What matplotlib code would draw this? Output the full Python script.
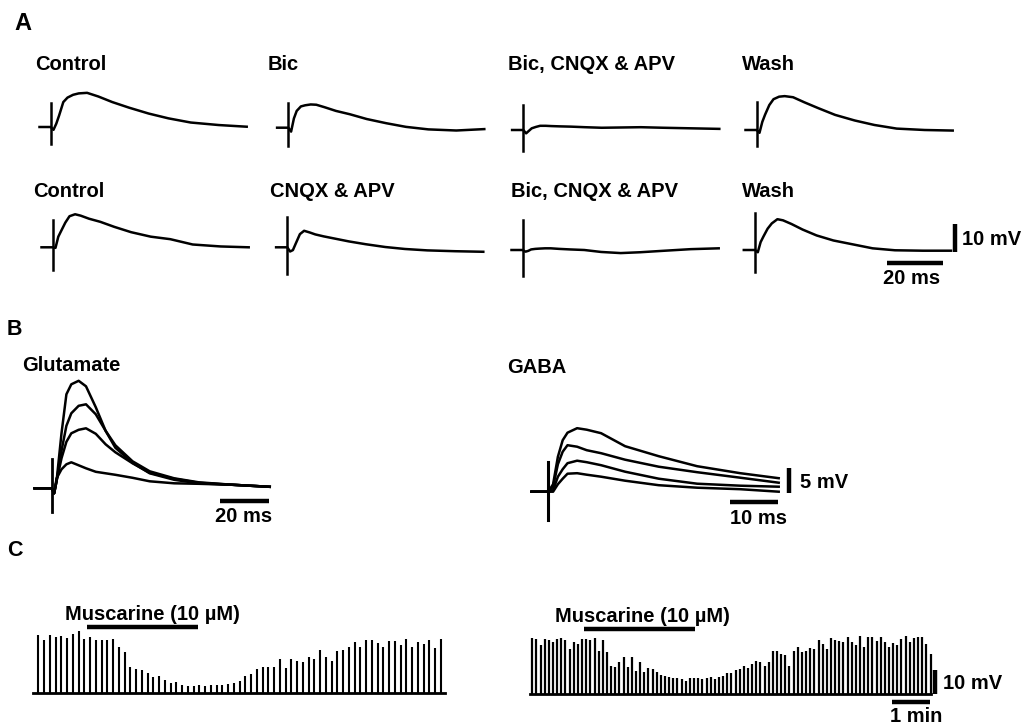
import matplotlib
matplotlib.use("Agg")
import matplotlib.pyplot as plt
import numpy as np

W, H = 1030, 727
plt.rcParams['font.family'] = ['Liberation Sans', 'DejaVu Sans']
plt.rcParams['font.weight'] = 'bold'

# ---------------- A: evoked PSPs (ms after stimulus, mV) ----------------
a_time = [-4, 0, 1, 2, 3, 4.5, 6, 8, 10, 13, 17, 22, 28, 35, 42, 50, 60, 70]
a_labels = [["Control", "Bic", "Bic, CNQX & APV", "Wash"],
            ["Control", "CNQX & APV", "Bic, CNQX & APV", "Wash"]]
a_traces = [
    [[0, 0, -1.0, 1.2, 4.1, 8.9, 10.5, 11.5, 12.0, 12.2, 10.9, 8.9, 6.9, 4.8, 3.1, 1.6, 0.7, 0.1],
     [0, 0, -1.4, 3.3, 6.0, 7.6, 8.0, 8.3, 8.2, 7.3, 6.0, 4.8, 3.1, 1.6, 0.3, -0.6, -1.0, -0.5],
     [0, 0, -1.2, -0.3, 0.6, 1.1, 1.5, 1.5, 1.4, 1.3, 1.2, 1.0, 0.8, 0.9, 1.0, 0.8, 0.6, 0.4],
     [0, 0, -1.0, 2.9, 5.5, 8.9, 11.0, 11.9, 12.1, 11.7, 9.9, 7.8, 5.4, 3.4, 1.8, 0.5, 0.0, -0.2]],
    [[0, 0, -0.2, 3.8, 5.8, 8.8, 11.1, 11.8, 11.3, 10.2, 9.1, 7.3, 5.4, 3.8, 2.9, 1.0, 0.3, 0.0],
     [0, 0, -1.5, -1.0, 1.3, 4.7, 5.9, 5.3, 4.6, 3.9, 3.1, 2.1, 1.1, 0.1, -0.6, -1.1, -1.4, -1.6],
     [0, 0, -0.6, -0.3, 0.2, 0.4, 0.5, 0.6, 0.6, 0.4, 0.2, 0.0, -0.7, -1.1, -0.8, -0.3, 0.3, 0.6],
     [0, 0, -0.8, 2.8, 4.8, 7.6, 9.5, 11.0, 10.6, 9.3, 7.3, 5.2, 3.4, 2.0, 0.6, -0.1, -0.25, -0.25]],
]
a_artifact_up = [[8.5, 8.7, 8.9, 10.1], [9.8, 10.9, 10.7, 13.1]]
a_artifact_down = [[6.1, 6.5, 7.4, 5.7], [8.1, 9.5, 9.3, 7.8]]

# ---------------- B: responses to glutamate / GABA ----------------
glu_time = [-7, 0, 1, 2, 4, 6, 8, 11, 14, 18, 22, 26, 33, 40, 50, 60, 74, 89]
glu_traces = [
    [0, 0, -1.0, 1.5, 11.0, 18.8, 20.8, 21.5, 20.4, 16.2, 11.5, 8.1, 5.1, 3.0, 1.7, 1.0, 0.7, 0.3],
    [0, 0, -1.0, 1.5, 7.5, 12.5, 15.0, 16.5, 16.8, 14.8, 11.5, 8.6, 5.4, 3.4, 2.0, 1.2, 0.7, 0.3],
    [0, 0, -1.0, 1.5, 6.0, 9.3, 11.0, 11.7, 12.0, 10.9, 8.8, 7.2, 5.0, 3.1, 1.9, 1.1, 0.7, 0.3],
    [0, 0, -1.0, 2.0, 3.8, 4.8, 5.2, 4.6, 4.0, 3.3, 3.0, 2.7, 2.1, 1.4, 1.0, 0.9, 0.7, 0.3],
]
gaba_time = [-3.5, 0, 1, 2, 3, 4, 6, 8, 11, 16, 23, 31, 40, 48]
gaba_traces = [
    [0, 0, 1.5, 7.0, 10.3, 11.8, 12.7, 12.4, 11.7, 9.1, 7.1, 5.1, 3.7, 2.7],
    [0, 0, 1.0, 5.5, 8.0, 9.3, 9.0, 8.3, 7.7, 6.4, 5.0, 3.9, 2.8, 1.8],
    [0, 0, 0.3, 3.0, 4.5, 5.7, 6.2, 5.9, 5.3, 4.0, 2.6, 1.6, 1.2, 1.0],
    [0, 0, 0.0, 1.5, 2.6, 3.6, 3.7, 3.4, 3.0, 2.2, 1.3, 0.8, 0.5, 0.0],
]
glu_artifact = (5.8, 4.7)
gaba_artifact = (6.0, 5.7)

# ---------------- C: PSP amplitude during muscarine (s, mV) ----------------
left_first, left_interval, left_end = 8.4, 9.08, 651
left_amps = [24.2, 22.1, 24.2, 23.3, 23.8, 22.9, 24.6, 25.8, 22.5, 23.3,
             22.1, 22.1, 22.1, 22.5, 19.2, 17.1, 10.8, 10.0, 9.6, 8.3,
             6.7, 7.1, 5.4, 4.2, 4.6, 3.3, 2.9, 2.9, 3.3, 2.9,
             3.3, 3.3, 3.3, 3.8, 4.2, 4.8, 7.0, 8.0, 10.1, 10.7,
             10.7, 10.7, 14.2, 10.4, 14.2, 13.2, 12.8, 14.9, 14.3, 18.0,
             14.9, 13.5, 17.4, 18.0, 19.0, 21.1, 19.2, 22.0, 22.0, 20.8,
             19.0, 21.8, 21.5, 19.9, 22.6, 19.2, 21.1, 20.5, 22.0, 18.8, 22.6]
right_first, right_interval, right_end = 3.6, 6.55, 633
right_amps = [23.2, 22.9, 20.4, 22.9, 22.6, 21.8, 22.9, 23.2, 22.6, 18.8,
              21.8, 20.8, 22.9, 22.9, 22.6, 23.2, 18.0, 22.6, 17.4, 11.8,
              11.1, 13.5, 15.3, 11.1, 15.3, 9.7, 13.2, 9.0, 10.7, 10.4,
              9.3, 7.9, 7.6, 7.0, 6.7, 6.5, 6.3, 5.5, 6.5, 6.5,
              6.5, 6.3, 6.5, 7.0, 6.3, 7.0, 7.4, 8.6, 8.6, 10.0,
              10.4, 11.8, 10.8, 12.5, 13.9, 13.2, 11.8, 13.2, 17.8, 18.0,
              16.7, 16.4, 11.8, 17.8, 19.7, 17.4, 17.8, 19.2, 18.8, 22.6,
              20.8, 18.8, 23.2, 22.5, 22.2, 21.5, 23.9, 21.5, 20.5, 24.0,
              19.5, 23.6, 23.6, 22.2, 23.6, 21.5, 19.7, 21.1, 20.5, 22.9,
              24.3, 21.5, 23.3, 23.9, 23.6, 20.8, 16.7]
muscarine_on, muscarine_off = 85, 260

fig = plt.figure(figsize=(W / 100, H / 100), dpi=100)


def trace_axes(x0, y0, sx, sy):
    # transparent full-figure axes: data (0, 0) sits at pixel (x0, y0), sx / sy pixels per unit
    ax = fig.add_axes([0, 0, 1, 1])
    ax.set_xlim(-x0 / sx, (W - x0) / sx)
    ax.set_ylim(-(H - y0) / sy, y0 / sy)
    ax.set_axis_off()
    return ax


def vbar(x0, y0, length, sy):
    trace_axes(x0, y0, 1, sy).plot([0, 0], [0, length], color='k', lw=3.2, solid_capstyle='butt')


def hbar(x0, y0, length, sx):
    trace_axes(x0, y0, sx, 1).plot([0, length], [0, 0], color='k', lw=3.2, solid_capstyle='butt')


lab = fig.add_axes([0, 0, 1, 1])
lab.set_xlim(0, W)
lab.set_ylim(H, 0)
lab.set_axis_off()


def label(x, y, s, size=14.5):
    lab.text(x, y, s, fontsize=size, fontweight='bold', va='baseline', ha='left')


# ---- A ----
label(14, 30, "A", 17)
a_origin = [[(50.7, 127), (288.3, 127.7), (523.3, 130), (756.7, 130)],
            [(52.7, 247.3), (287.3, 247.3), (522.7, 250), (755, 250)]]
a_label_xy = [[(35, 70), (268, 70), (508, 70), (742, 70)],
              [(33, 197), (270, 197), (511, 197), (742, 197)]]
for r in range(2):
    for c in range(4):
        x0, y0 = a_origin[r][c]
        ax = trace_axes(x0, y0, 2.8, 2.8)
        ax.plot(a_time, a_traces[r][c], color='k', lw=1.8)
        ax.plot([0, 0], [-a_artifact_down[r][c], a_artifact_up[r][c]], color='k', lw=1.8)
        lx, ly = a_label_xy[r][c]
        label(lx, ly, a_labels[r][c])
vbar(955, 252, 10, 2.8)
hbar(887, 263, 20, 2.8)
label(962, 245, "10 mV")
label(883, 284, "20 ms")

# ---- B ----
label(7, 335, "B", 15.5)
label(22, 371, "Glutamate")
label(507, 373, "GABA")
ax = trace_axes(51.7, 488.3, 2.45, 5)
for tr in glu_traces:
    ax.plot(glu_time, tr, color='k', lw=1.8)
ax.plot([0, 0], [-glu_artifact[1], glu_artifact[0]], color='k', lw=2)
ax = trace_axes(548.3, 491.7, 4.8, 5)
for tr in gaba_traces:
    ax.plot(gaba_time, tr, color='k', lw=1.8)
ax.plot([0, 0], [-gaba_artifact[1], gaba_artifact[0]], color='k', lw=2.2)
hbar(220, 501, 20, 2.45)
label(215, 522, "20 ms")
hbar(730, 502, 10, 4.8)
label(730, 524, "10 ms")
vbar(789, 493, 5, 5)
label(800, 488, "5 mV")

# ---- C ----
label(7, 556, "C", 15.5)
for (x0, y0, first, step, end, amps, bar_y, lx, spike_lw) in [
        (33, 693, left_first, left_interval, left_end, left_amps, 627, 65, 1.5),
        (530, 694, right_first, right_interval, right_end, right_amps, 629, 555, 1.6)]:
    ax = trace_axes(x0, y0, 38 / 60, 2.4)
    times = first + step * np.arange(len(amps))
    ax.plot([0, end], [0, 0], color='k', lw=2.0)
    ax.vlines(times, 0, amps, color='k', lw=spike_lw)
    ax.plot([muscarine_on, muscarine_off], [(y0 - bar_y) / 2.4] * 2, color='k', lw=3.2,
            solid_capstyle='butt')
    label(lx, bar_y - 7, "Muscarine (10 µM)")
vbar(935, 694, 10, 2.4)
label(943, 689, "10 mV")
hbar(892, 702, 60, 38 / 60)
label(890, 722, "1 min")

fig.savefig("out.png", dpi=100)
